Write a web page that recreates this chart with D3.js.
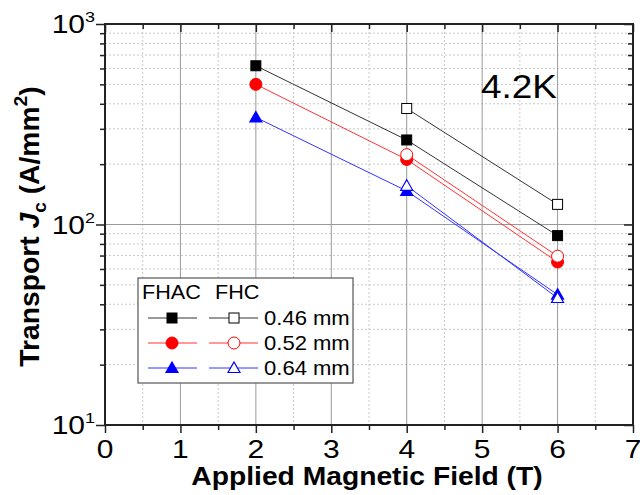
<!DOCTYPE html>
<html><head><meta charset="utf-8">
<script src="https://cdn.jsdelivr.net/npm/d3@7"></script>
<style>body{margin:0;background:#fff}text{font-family:Arial,"Liberation Sans",sans-serif}</style>
</head><body>
<svg id="c" width="640" height="495"></svg>
<script>
// ---- data ----
const fieldsFHAC = [2, 4, 6];
const fieldsFHC = [4, 6];
const fhac046 = [619, 264, 88];
const fhac052 = [500, 211, 65];
const fhac064 = [342, 147, 44.7];
const fhc046 = [379, 126];
const fhc052 = [223, 69.5];
const fhc064 = [156, 43];
const xTicks = [0, 1, 2, 3, 4, 5, 6, 7];
const yTickExp = [1, 2, 3];
const diameters = ["0.46 mm", "0.52 mm", "0.64 mm"];
const colors = ["#000000", "#ff0000", "#0000ff"];
const shapes = ["square", "circle", "triangle"];

const series = [
  {x: fieldsFHAC, y: fhac046, c: 0, filled: true},
  {x: fieldsFHC,  y: fhc046,  c: 0, filled: false},
  {x: fieldsFHAC, y: fhac052, c: 1, filled: true},
  {x: fieldsFHC,  y: fhc052,  c: 1, filled: false},
  {x: fieldsFHAC, y: fhac064, c: 2, filled: true},
  {x: fieldsFHC,  y: fhc064,  c: 2, filled: false}
];

const svg = d3.select("#c");
const L = 105, R = 633, T = 24, B = 425;
const x = d3.scaleLinear().domain([0, 7]).range([L, R]);
const y = d3.scaleLog().domain([10, 1000]).range([B, T]);

// ---- grid ----
const g = svg.append("g");
const xMinor = d3.range(0.5, 7, 1);
const xMajor = [1, 2, 3, 4, 5, 6];
const yMinor = [];
[10, 100].forEach(d => { for (let k = 2; k <= 9; k++) yMinor.push(d * k); });
g.selectAll(".xm").data(xMinor).join("line")
  .attr("x1", d => x(d)).attr("x2", d => x(d)).attr("y1", T).attr("y2", B)
  .attr("stroke", "#c8c8c8").attr("stroke-dasharray", "2,2").attr("stroke-width", 1);
g.selectAll(".ym").data(yMinor).join("line")
  .attr("y1", d => y(d)).attr("y2", d => y(d)).attr("x1", L).attr("x2", R)
  .attr("stroke", "#c8c8c8").attr("stroke-dasharray", "2,2").attr("stroke-width", 1);
g.selectAll(".xM").data(xMajor).join("line")
  .attr("x1", d => x(d)).attr("x2", d => x(d)).attr("y1", T).attr("y2", B)
  .attr("stroke", "#9a9a9a").attr("stroke-width", 1);
g.append("line").attr("y1", y(100)).attr("y2", y(100)).attr("x1", L).attr("x2", R)
  .attr("stroke", "#9a9a9a").attr("stroke-width", 1);

// ---- axes ticks ----
const tickStyle = sel => { sel.select(".domain").remove(); sel.selectAll("line").attr("stroke", "#222").attr("stroke-width", 1.5); sel.selectAll("text").remove(); };
svg.append("g").attr("transform", `translate(0,${B})`).call(d3.axisBottom(x).tickValues(xTicks).tickSize(8)).call(tickStyle);
svg.append("g").attr("transform", `translate(0,${B})`).call(d3.axisBottom(x).tickValues(xMinor).tickSize(5)).call(tickStyle);
svg.append("g").attr("transform", `translate(0,${T})`).call(d3.axisBottom(x).tickValues(xTicks).tickSize(8)).call(tickStyle);
svg.append("g").attr("transform", `translate(0,${T})`).call(d3.axisBottom(x).tickValues(xMinor).tickSize(5)).call(tickStyle);
svg.append("g").attr("transform", `translate(${L},0)`).call(d3.axisLeft(y).tickValues([10, 100, 1000]).tickSize(9)).call(tickStyle);
svg.append("g").attr("transform", `translate(${L},0)`).call(d3.axisLeft(y).tickValues(yMinor).tickSize(5)).call(tickStyle);
svg.append("g").attr("transform", `translate(${R},0)`).call(d3.axisLeft(y).tickValues([10, 100, 1000]).tickSize(9)).call(tickStyle);
svg.append("g").attr("transform", `translate(${R},0)`).call(d3.axisLeft(y).tickValues(yMinor).tickSize(5)).call(tickStyle);

// frame
svg.append("rect").attr("x", L).attr("y", T).attr("width", R - L).attr("height", B - T)
  .attr("fill", "none").attr("stroke", "#222").attr("stroke-width", 2);

// ---- tick labels ----
const SX = 1.2;
svg.selectAll(".xl").data(xTicks).join("text")
  .attr("transform", d => `translate(${x(d)},${B + 33}) scale(${SX},1)`)
  .attr("text-anchor", "middle").attr("font-size", 25).text(d => d);
yTickExp.forEach(e => {
  const t = svg.append("text")
    .attr("transform", `translate(${L - 10},${y(Math.pow(10, e)) + 9}) scale(${SX},1)`)
    .attr("text-anchor", "end").attr("font-size", 25);
  t.append("tspan").text("10");
  t.append("tspan").attr("font-size", 15).attr("dy", -11).text(e);
});

// ---- axis titles ----
svg.append("text").attr("transform", `translate(${(L + R) / 2 - 2},485) scale(1.13,1)`)
  .attr("text-anchor", "middle").attr("font-size", 25).attr("font-weight", "bold")
  .text("Applied Magnetic Field (T)");
const yt = svg.append("text").attr("transform", `translate(39,${(T + B) / 2 + 2}) rotate(-90) scale(1.13,1.12)`)
  .attr("text-anchor", "middle").attr("font-size", 25).attr("font-weight", "bold");
yt.append("tspan").text("Transport ");
yt.append("tspan").attr("font-style", "italic").text("J");
yt.append("tspan").attr("font-size", 17).attr("dy", 6).text("c");
yt.append("tspan").attr("dy", -6).text(" (A/mm");
yt.append("tspan").attr("font-size", 17).attr("dy", -11).text("2");
yt.append("tspan").attr("dy", 11).text(")");

// ---- 4.2K label ----
svg.append("text").attr("transform", `translate(481,98) scale(1.12,1)`)
  .attr("font-size", 33).text("4.2K");

// ---- markers ----
function drawMarker(sel, shape, cx, cy, color, filled, sz) {
  const fill = filled ? color : "#fff";
  if (shape === "square") {
    sel.append("rect").attr("x", cx - sz / 2).attr("y", cy - sz / 2).attr("width", sz).attr("height", sz)
      .attr("fill", fill).attr("stroke", color).attr("stroke-width", 1);
  } else if (shape === "circle") {
    sel.append("circle").attr("cx", cx).attr("cy", cy).attr("r", sz / 2 + 1)
      .attr("fill", fill).attr("stroke", color).attr("stroke-width", 1);
  } else {
    const h = sz * 1.0, w = sz * 1.2;
    sel.append("path").attr("d", `M${cx},${cy - h * 0.6}L${cx + w / 2},${cy + h * 0.45}L${cx - w / 2},${cy + h * 0.45}Z`)
      .attr("fill", fill).attr("stroke", color).attr("stroke-width", 1.2);
  }
}

const line = d3.line().x(d => x(d[0])).y(d => y(d[1]));
const lineColors = ["#333333", "#ff3333", "#3333ff"];
series.forEach(s => {
  const pts = s.x.map((v, i) => [v, s.y[i]]);
  svg.append("path").attr("d", line(pts)).attr("fill", "none")
    .attr("stroke", lineColors[s.c]).attr("stroke-width", 1);
});
series.forEach(s => {
  const gg = svg.append("g");
  s.x.forEach((v, i) => drawMarker(gg, shapes[s.c], x(v), y(s.y[i]), colors[s.c], s.filled, 10));
});

// ---- legend ----
const lg = svg.append("g");
lg.append("rect").attr("x", 138).attr("y", 278).attr("width", 215).attr("height", 105)
  .attr("fill", "#fff").attr("stroke", "#555").attr("stroke-width", 1.2);
lg.append("text").attr("transform", "translate(142,299) scale(1.03,1)").attr("font-size", 21).text("FHAC");
lg.append("text").attr("transform", "translate(215,299) scale(1.03,1)").attr("font-size", 21).text("FHC");
diameters.forEach((d, i) => {
  const cy = 318 + i * 25;
  lg.append("line").attr("x1", 148).attr("x2", 197).attr("y1", cy).attr("y2", cy).attr("stroke", lineColors[i]).attr("stroke-width", 1);
  lg.append("line").attr("x1", 209).attr("x2", 258).attr("y1", cy).attr("y2", cy).attr("stroke", lineColors[i]).attr("stroke-width", 1);
  drawMarker(lg, shapes[i], 172, cy, colors[i], true, 10);
  drawMarker(lg, shapes[i], 234, cy, colors[i], false, 10);
  lg.append("text").attr("transform", `translate(264,${cy + 7}) scale(1.05,1)`).attr("font-size", 21).text(d);
});
</script>
</body></html>
